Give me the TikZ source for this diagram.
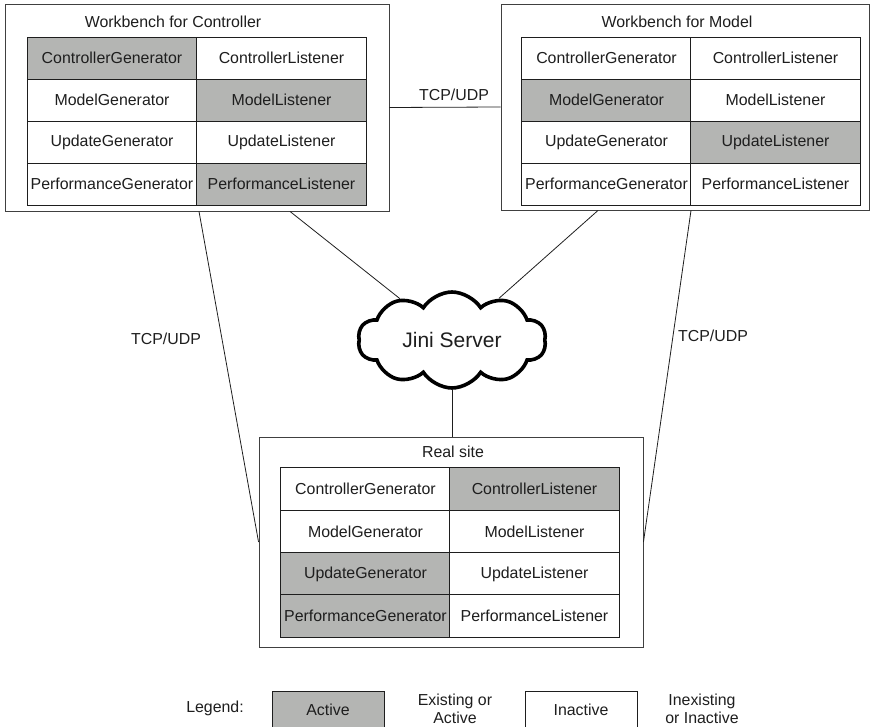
\documentclass[tikz,border=0pt]{standalone}
\usepackage{fontspec}
\setmainfont{Liberation Sans}
\usetikzlibrary{shapes.symbols,calc}
\definecolor{actgray}{RGB}{180,181,179}
\definecolor{ink}{RGB}{30,30,30}
\begin{document}
\begin{tikzpicture}[x=1pt,y=-1pt,
  every node/.style={font=\fontsize{15.9}{19}\selectfont, text=ink},
  cell/.style={draw=ink, line width=0.9pt, minimum width=169.5pt, minimum height=42pt, inner sep=0pt, fill=white},
  rcell/.style={cell, minimum height=42.25pt},
  act/.style={fill=actgray},
  outer/.style={draw=ink!85, line width=0.9pt, inner sep=0pt, fill=white},
  conn/.style={draw=ink, line width=0.8pt},
  lbl/.style={inner sep=0pt},
  legbox/.style={draw=ink, line width=0.9pt, minimum width=112pt, minimum height=37pt, inner sep=0pt}
]
\useasboundingbox (0,0) rectangle (880,727);

% outer boxes
\node[outer, minimum width=384pt, minimum height=207pt] (wbc) at (197,107.5) {};
\node[outer, minimum width=368pt, minimum height=206pt] (wbm) at (685,107) {};
\node[outer, minimum width=384pt, minimum height=210pt] (rs) at (451,542) {};

% titles
\node[lbl] (wbct) at (173,22) {Workbench for Controller};
\node[lbl] (wbmt) at (677,22) {Workbench for Model};
\node[lbl] (rst) at (453,452) {Real site};

% Workbench for Controller table
\node[cell, act] (c11) at (112,58) {ControllerGenerator};
\node[cell] (c12) at (281.5,58) {ControllerListener};
\node[cell] (c21) at (112,100) {ModelGenerator};
\node[cell, act] (c22) at (281.5,100) {ModelListener};
\node[cell] (c31) at (112,142) {UpdateGenerator};
\node[cell] (c32) at (281.5,142) {UpdateListener};
\node[cell] (c41) at (112,184) {PerformanceGenerator};
\node[cell, act] (c42) at (281.5,184) {PerformanceListener};

% Workbench for Model table
\node[cell] (m11) at (606.5,58) {ControllerGenerator};
\node[cell] (m12) at (775.5,58) {ControllerListener};
\node[cell, act] (m21) at (606.5,100) {ModelGenerator};
\node[cell] (m22) at (775.5,100) {ModelListener};
\node[cell] (m31) at (606.5,142) {UpdateGenerator};
\node[cell, act] (m32) at (775.5,142) {UpdateListener};
\node[cell] (m41) at (606.5,184) {PerformanceGenerator};
\node[cell] (m42) at (775.5,184) {PerformanceListener};

% Real site table
\node[rcell] (r11) at (365.5,489) {ControllerGenerator};
\node[rcell, act] (r12) at (534.5,489) {ControllerListener};
\node[rcell] (r21) at (365.5,531.5) {ModelGenerator};
\node[rcell] (r22) at (534.5,531.5) {ModelListener};
\node[rcell, act] (r31) at (365.5,574) {UpdateGenerator};
\node[rcell] (r32) at (534.5,574) {UpdateListener};
\node[rcell, act] (r41) at (365.5,616) {PerformanceGenerator};
\node[rcell] (r42) at (534.5,616) {PerformanceListener};

% cloud
\node[cloud, draw=black, line width=3.6pt, fill=white, cloud puffs=10, cloud puff arc=115, aspect=2,
      minimum width=188pt, minimum height=96pt, inner sep=0pt] (jini) at (452,340)
      {\raisebox{-4pt}{\fontsize{21}{25}\selectfont Jini Server}};

% connectors
\draw[conn] (wbc.east) -- (wbm.west);
\draw[conn] ([xshift=93pt]wbc.south) -- (jini);
\draw[conn] ([xshift=-87pt]wbm.south) -- (jini);
\draw[conn] (jini.south) -- (jini.south |- rs.north);
\draw[conn] ([xshift=2pt]wbc.south) -- (rs.west);
\draw[conn] ([xshift=6pt]wbm.south) -- (rs.east);

% connector labels
\node[lbl] (tcp1) at (454,95) {TCP/UDP};
\node[lbl] (tcp2) at (166,339) {TCP/UDP};
\node[lbl] (tcp3) at (713,336) {TCP/UDP};

% legend
\node[lbl] (legt) at (215,708) {Legend:};
\node[legbox, fill=actgray] (lega) at (328,709.5) {Active};
\node[lbl, align=center, font=\fontsize{15.9}{18}\selectfont] (legat) at (455,709) {Existing or\\Active};
\node[legbox, fill=white] (legi) at (581,709.5) {Inactive};
\node[lbl, align=center, font=\fontsize{15.9}{18}\selectfont] (legit) at (702,709) {Inexisting\\or Inactive};
\end{tikzpicture}
\end{document}
